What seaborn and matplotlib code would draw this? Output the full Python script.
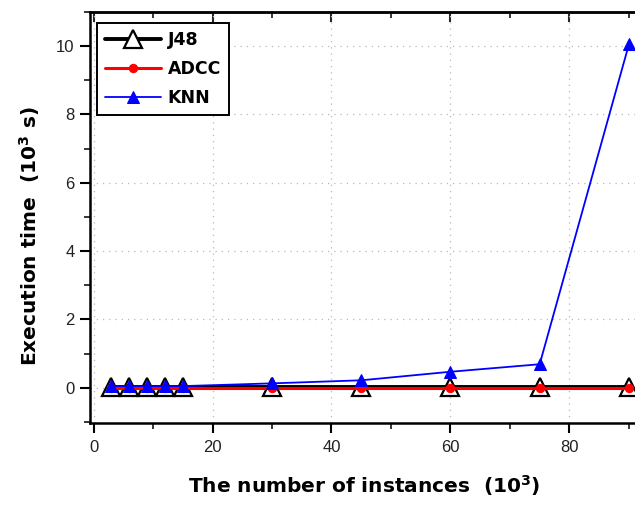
import matplotlib
matplotlib.use("Agg")
import matplotlib.pyplot as plt
from matplotlib.ticker import MultipleLocator
import seaborn as sns
import pandas as pd

# Number of instances (thousands)
instances = [3, 6, 9, 12, 15, 30, 45, 60, 75, 90]
# Execution time (thousands of seconds)
j48_time = [0.02, 0.02, 0.02, 0.02, 0.02, 0.02, 0.02, 0.02, 0.02, 0.02]
adcc_time = [0.0, 0.0, 0.0, 0.0, 0.0, 0.0, 0.0, 0.0, 0.0, 0.0]
knn_time = [0.05, 0.05, 0.05, 0.05, 0.05, 0.13, 0.22, 0.47, 0.69, 10.05]

df = pd.DataFrame({"x": instances, "J48": j48_time, "ADCC": adcc_time, "KNN": knn_time})

sns.set_theme(style="ticks")
plt.rcParams["font.family"] = ["Liberation Sans", "DejaVu Sans"]
plt.rcParams["mathtext.fontset"] = "dejavusans"
plt.rcParams["mathtext.default"] = "bf"
plt.rcParams["text.color"] = "black"
plt.rcParams["axes.labelcolor"] = "black"

fig = plt.figure(figsize=(6.35, 5.11), dpi=100)
ax = fig.add_axes([90 / 635, 88 / 511, 549 / 635, 411 / 511])

sns.lineplot(data=df, x="x", y="J48", ax=ax, color="black", lw=2.8,
             marker="^", markersize=13, markerfacecolor="white",
             markeredgecolor="black", markeredgewidth=1.6, label="J48", zorder=3)
sns.lineplot(data=df, x="x", y="ADCC", ax=ax, color="red", lw=2.2,
             marker="o", markersize=6, markerfacecolor="red",
             markeredgecolor="red", label="ADCC", zorder=4)
sns.lineplot(data=df, x="x", y="KNN", ax=ax, color="blue", lw=1.3,
             marker="^", markersize=9, markerfacecolor="blue",
             markeredgecolor="blue", label="KNN", zorder=5)

ax.set_xlim(-0.6, 91.7)
ax.set_ylim(-1.03, 11)
ax.xaxis.set_major_locator(MultipleLocator(20))
ax.xaxis.set_minor_locator(MultipleLocator(10))
ax.yaxis.set_major_locator(MultipleLocator(2))
ax.yaxis.set_minor_locator(MultipleLocator(1))

ax.grid(True, which="major", color="#b8b8b8", linestyle=(0, (1, 4)), lw=0.9)
for s in ax.spines.values():
    s.set_linewidth(1.8)
    s.set_color("black")

ax.tick_params(axis="both", which="major", direction="out", length=7, width=1.5,
               labelsize=12, colors="black", labelcolor="#222222", pad=4)
ax.tick_params(axis="both", which="minor", direction="out", length=4.5, width=1.3)
ax.tick_params(axis="x", which="major", pad=5)
ax.tick_params(axis="y", which="both", right=False)

# inward ticks along the top frame
top = ax.secondary_xaxis("top")
top.xaxis.set_major_locator(MultipleLocator(20))
top.xaxis.set_minor_locator(MultipleLocator(10))
top.tick_params(which="major", direction="in", length=7, width=1.5, labeltop=False)
top.tick_params(which="minor", direction="in", length=4.5, width=1.3)
top.spines["top"].set_linewidth(1.8)

label_font = {"family": "DejaVu Sans", "weight": "bold", "size": 14.5}
ax.set_xlabel("The number of instances  (10$^{3}$)", fontdict=label_font, labelpad=13)
ax.set_ylabel("Execution time  (10$^{3}$ s)", fontdict=label_font, labelpad=10)
ax.yaxis.label.set_y(0.455)

leg = ax.legend(loc="upper left", bbox_to_anchor=(0.013, 0.973), frameon=True,
                fancybox=False, edgecolor="black", framealpha=1,
                prop={"family": "DejaVu Sans", "weight": "bold", "size": 12.5},
                handlelength=3.2, borderpad=0.45, labelspacing=0.65,
                handletextpad=0.4, borderaxespad=0)
leg.get_frame().set_linewidth(1.4)

fig.savefig("out.png", dpi=100)
